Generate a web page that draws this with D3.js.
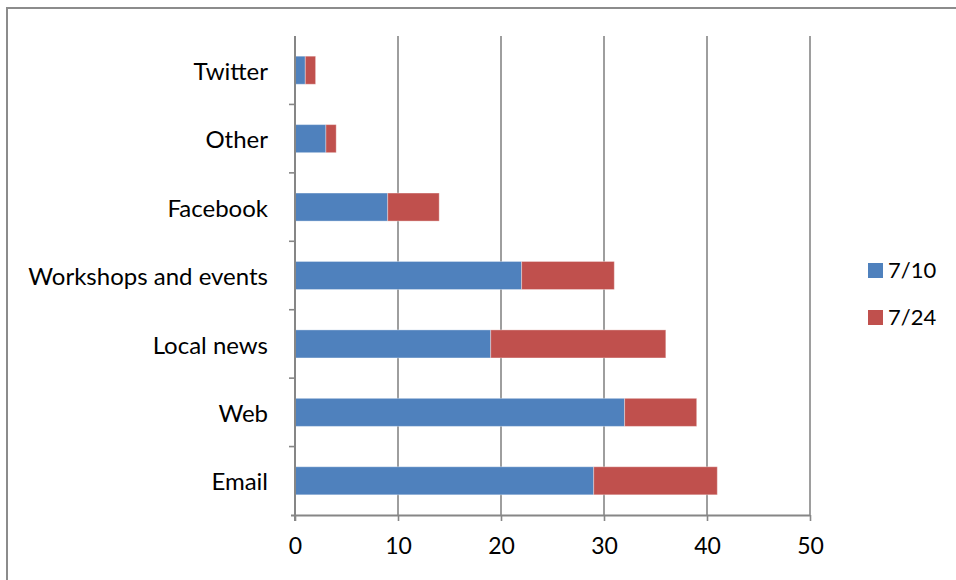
<!DOCTYPE html>
<html>
<head>
<meta charset="utf-8">
<script src="https://cdn.jsdelivr.net/npm/d3@7"></script>
<style>
  body { margin: 0; background: #fff; }
  svg text { font-family: Lato, "Liberation Sans", sans-serif; fill: #000; }
</style>
</head>
<body>
<div id="chart"></div>
<script>
// categories top to bottom
const categories = ['Twitter', 'Other', 'Facebook', 'Workshops and events', 'Local news', 'Web', 'Email']
const seriesNames = ['7/10', '7/24']
const values_0710 = [1, 3, 9, 22, 19, 32, 29]
const values_0724 = [1, 1, 5, 9, 17, 7, 12]
const xTicks = [0, 10, 20, 30, 40, 50]
const colors = ['#4F81BD', '#C0504D']

const width = 956
const height = 580
const plot = { left: 295, right: 810, top: 36, bottom: 515 }

const svg = d3.select('#chart').append('svg')
  .attr('width', width)
  .attr('height', height)

// chart frame (runs off the picture on right and bottom)
svg.append('rect')
  .attr('x', 7).attr('y', 8)
  .attr('width', 1000).attr('height', 700)
  .attr('fill', 'none')
  .attr('stroke', '#8c8c8c')
  .attr('stroke-width', 2)

const x = d3.scaleLinear().domain([0, 50]).range([plot.left, plot.right])
const y = d3.scaleBand().domain(categories).range([plot.top, plot.bottom]).paddingInner(0.59).paddingOuter(0.295)

// gridlines
svg.append('g')
  .selectAll('line')
  .data(xTicks.slice(1))
  .join('line')
  .attr('x1', d => x(d)).attr('x2', d => x(d))
  .attr('y1', plot.top).attr('y2', plot.bottom)
  .attr('stroke', '#868686')
  .attr('stroke-width', 1.6)

const rows = categories.map((c, i) => ({ cat: c, a: values_0710[i], b: values_0724[i] }))
const stacked = d3.stack().keys(['a', 'b'])(rows)

svg.append('g')
  .selectAll('g')
  .data(stacked)
  .join('g')
  .attr('fill', (d, i) => colors[i])
  .selectAll('rect')
  .data(d => d)
  .join('rect')
  .attr('x', d => x(d[0]))
  .attr('width', d => x(d[1]) - x(d[0]))
  .attr('y', d => y(d.data.cat))
  .attr('height', y.bandwidth())
  .attr('stroke', 'rgba(255,255,255,0.35)')
  .attr('stroke-width', 1)

// x axis
const xAxis = svg.append('g')
  .attr('transform', `translate(0,${plot.bottom})`)
  .call(d3.axisBottom(x).tickValues(xTicks).tickSize(6).tickPadding(17).tickSizeOuter(0))
xAxis.select('.domain').attr('stroke', '#868686').attr('stroke-width', 2)
  .attr('d', `M${plot.left - 4},0.5H${plot.right}`)
xAxis.selectAll('.tick line').attr('stroke', '#868686').attr('stroke-width', 1.6)
xAxis.selectAll('.tick text').attr('font-size', 23).attr('font-family', 'Lato, sans-serif')

// y axis
const bandStep = (plot.bottom - plot.top) / categories.length
const yAxis = svg.append('g')
  .attr('transform', `translate(${plot.left},0)`)
  .call(d3.axisLeft(y).tickSize(0).tickPadding(27))
yAxis.select('.domain').attr('stroke', '#868686').attr('stroke-width', 2)
  .attr('d', `M0,${plot.top}V${plot.bottom + 6}`)
yAxis.selectAll('.tick text').attr('font-size', 24).attr('dy', '0.4em').attr('font-family', 'Lato, sans-serif')
// ticks between categories
yAxis.append('g')
  .selectAll('line')
  .data(d3.range(1, categories.length))
  .join('line')
  .attr('x1', -6).attr('x2', 0)
  .attr('y1', d => plot.top + d * bandStep).attr('y2', d => plot.top + d * bandStep)
  .attr('stroke', '#868686').attr('stroke-width', 1.6)

// legend
const legend = svg.append('g').attr('transform', 'translate(868,263)')
const items = legend.selectAll('g')
  .data(seriesNames)
  .join('g')
  .attr('transform', (d, i) => `translate(0,${i * 47})`)
items.append('rect')
  .attr('width', 15).attr('height', 15)
  .attr('fill', (d, i) => colors[i])
items.append('text')
  .attr('x', 20).attr('y', 15)
  .attr('font-size', 22)
  .text(d => d)
</script>
</body>
</html>
